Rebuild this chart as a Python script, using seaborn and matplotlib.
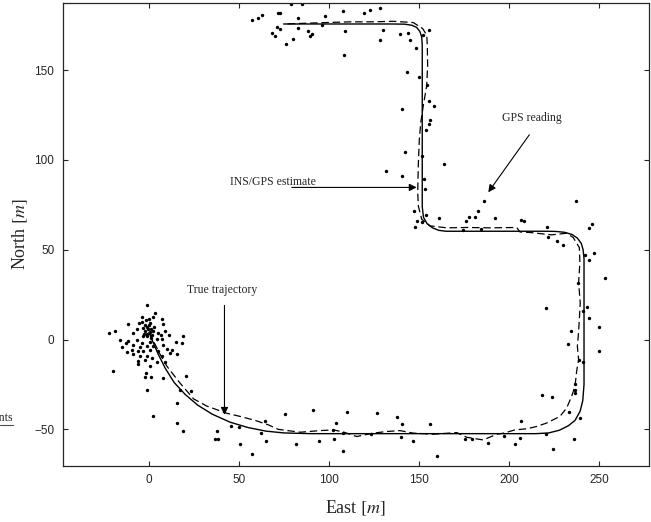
import matplotlib
matplotlib.use("Agg")
import matplotlib.pyplot as plt
import seaborn as sns
from matplotlib.lines import Line2D

# true trajectory (waypoints)
true_east = [0, 2, 5, 9, 14, 20, 27, 35, 45, 55, 65, 75, 90, 150, 215, 222, 228, 233,
             236.7, 239.5, 241, 241.7, 241.7, 241.2, 240.2, 238, 235, 231, 226, 220,
             165, 161, 157.5, 154.5, 152.5, 151.8, 151.8, 151.5, 150.5, 148.7, 146,
             142, 135, 75]
true_north = [4, -1, -8, -16, -24, -30.5, -36.5, -41.5, -46, -49, -51, -52, -52.4,
              -52.4, -52.4, -52, -50.5, -48, -45, -40, -34, -25, 45, 50, 53.5, 56.5,
              58.5, 59.7, 60.2, 60.3, 60.3, 60.8, 62.2, 64.5, 68, 74, 164, 168.5,
              171.5, 173.8, 175, 175.6, 175.7, 175.7]

# INS/GPS estimate
est_east = [0, 2, 6, 10, 17, 24.7, 32, 43, 50.6, 58.9, 66.3, 71.8, 84, 95, 102.4, 108,
            115.4, 124.6, 132, 139.4, 146.8, 158, 171, 176.5, 185.7, 193.2, 197.2,
            203.3, 209.8, 215, 220.9, 228.3, 232, 234.8, 236.7, 237.6, 238.7, 238,
            238.5, 239.1, 239.6, 238.7, 239.4, 239.1, 235.7, 232, 223.7, 211.7, 206.1,
            204.3, 189.4, 176.5, 165.4, 156.1, 151.5, 149.6, 149.3, 149.6, 150.2, 151,
            152.4, 154.3, 154.8, 154.6, 154.3, 152, 146.8, 135.7, 124.6, 111.7, 98.7,
            74.6]
est_north = [4, 0, -8, -15, -24, -33, -37, -41, -42.8, -45, -47.5, -50, -51.6, -50.7,
             -50.3, -51.5, -54, -52.1, -51.2, -50.7, -52.1, -52.7, -51.8, -54.4, -55.9,
             -52.7, -52.1, -50.3, -49.7, -48.5, -46.5, -42.8, -38.2, -31.7, -26, -17.7,
             -11.2, -3.7, 1.8, 11.2, 20.5, 31.7, 42.8, 51.2, 56.8, 59.2, 58.3, 59.6,
             59.9, 62.4, 62.2, 62.4, 62.2, 63.3, 67, 74.5, 82, 96.8, 111.7, 121, 130.3,
             141.5, 152.7, 163.9, 169.5, 173.2, 176.5, 177.2, 176.9, 176.9, 176.5, 175.7]

# GPS readings
gps_east = [
    -1.3, 3.3, -3.7, 2, 0.2, -11.7, -5.4, 8, -1.9, 7, -22.4, -18.9, -8.7, -6.5, -3.5,
    -2.2, -0.7, 0.6, 1.5, -1.3, -3.2, 5.2, 6.7, 8.9, 11.3, 4.3, 7, 19, -16.1, -11.5,
    -6.8, -4, 0.6, 15, 18.2, -12.8, -8.7, -5, -1.3, 2.4, 8, -15.2, -9.6, -5.9, -3.2,
    0.6, 5.2, 9.8, 12.6, -12.4, -8.7, -5, -1.3, 1.5, 7, 11.7, 15.4, -5.9, -2.2, 4.3,
    8.9, -5.9, 0.6, -20.2, -1.7, -2.2, 0.9, 8, 20.6, -1.3, 17.2, 23.2,
    -1, 0, 1, -2, 0.5, 2, -1, 1, 3, -3, -4,
    2, 15.4, 18.7, 15.7,
    38, 36.8, 38.3, 45.7, 49.8, 50.6, 57, 62, 64.4, 65, 75.6, 81.5, 91.3, 94.6, 102,
    102.8, 103.9, 107.6, 108, 109.8, 123.3, 126.8, 138, 140.4, 139.8, 146.5, 156.1,
    160.2, 175.7, 179.6, 188.5, 197.2, 203.3, 206.1, 206.5, 218.5, 224, 220.4, 224.3,
    236.1, 239.4, 233.3, 236.5,
    237.2, 206.5, 208.3, 221.3, 244.4, 246.1, 221.8, 226.5, 230.2, 242, 247.2, 244.6,
    253.5, 238.5, 220.6, 243.5, 241.3, 244.4, 250.2, 234.4, 232.9, 250.2, 239.1, 241.3,
    236.7, 236.7,
    145, 148.3, 143.2, 150.2, 154.6, 155.6, 158.5, 140.7, 156.1, 155.5, 153.9, 142.2,
    151.8, 163.9, 140.7, 152.9, 153.3, 131.5, 186.3, 147.2, 148.7, 151.5, 153.7, 147.8,
    161.3, 176.1, 177.9, 181.1, 182.9, 174.6, 184.3, 192.2,
    78.7, 84.8, 57.4, 60.7, 63, 71.8, 72.8, 82.9, 97.8, 107.9, 119.4, 122.8, 128.3,
    71.3, 72.8, 68.5, 70, 82.9, 88.5, 90.4, 89.4, 80.2, 75.9, 108.9, 108.5, 130.2,
    128.3, 139.4, 144.1, 152.1, 155.7, 95.9]
gps_north = [
    19, 15, 12.7, 12.7, 11.6, 8.9, 9.3, 8.5, 10.8, 11.2, 3.7, 4.6, 3.7, 6, 6.5, 4.6,
    5.6, 4.1, 2.8, 1.8, 1.8, 3.7, 2.8, 4.6, 2.8, 0.4, 0.4, 2.2, 0, -0.9, 0, -1.8, -1.5,
    -1.5, -1.8, -1.8, -2.8, -4.1, -3.7, -3.4, -2.8, -4.1, -5.6, -6.5, -6.1, -5.6, -6.5,
    -5.2, -5.6, -7.1, -7.8, -9.3, -8.9, -10.2, -9.3, -7.4, -7.8, -12.1, -11.6, -12.7,
    -12.7, -13.4, -14.5, -17.7, -18.6, -20.8, -20.8, -21.4, -20.1, -27.9, -27.9, -28.9,
    7, 8, 6, 8, 9, 5, 3, 1, 7, 3, 10,
    -42.5, -46.2, -50.7, -35.4,
    -50.7, -55.5, -55.1, -48, -48.8, -58.1, -63.9, -51.8, -45.4, -56.4, -41.5, -57.9,
    -39.3, -56.4, -50.3, -55.5, -46.5, -51.8, -62, -40.2, -52.7, -41, -43.2, -46.9,
    -54.4, -56.6, -46.9, -64.6, -55.3, -55.5, -57.4, -53.5, -58.1, -54.9, -45.1, -30.9,
    -31.8, -52.5, -60.7, -55.3, -43.6, -40.6, -29.8,
    77.3, 66.6, 65.8, 62.7, 62.2, 64.1, 57.2, 54.9, 52.7, 46.9, 48.4, 44.1, 34.2, 31.7,
    17.3, 18.3, 16, 11.9, 7.1, 5, -2.4, -6.5, -11.2, -12.7, -24.7, -28.3,
    166.6, 162.4, 149, 146.2, 141.9, 132.6, 130.3, 128.1, 122.3, 120, 116.4, 104.3,
    102.1, 97.8, 90.9, 89.4, 83.8, 93.6, 77.3, 71.7, 66.1, 65.5, 69.3, 62.4, 67.6,
    66.1, 68.5, 68.5, 71.7, 60.9, 61.8, 67.6,
    187, 186.7, 177.8, 179.3, 180.6, 181.9, 181.9, 179.1, 180.2, 182.8, 181.6, 183.4,
    184.7, 174.1, 172.8, 170.8, 169.1, 173.2, 171.9, 170.4, 169.1, 167.2, 164.4,
    171.8, 158.7, 172.6, 167, 170, 170.8, 169.6, 172.2, 175.1]

sns.set_style("ticks")
plt.rcParams['font.family'] = ['Liberation Serif', 'DejaVu Serif']
plt.rcParams['mathtext.fontset'] = 'stix'

fig = plt.figure(figsize=(6.51, 5.22), dpi=100)
ax = fig.add_axes([0.0963, 0.1073, 0.9006, 0.887])

sns.lineplot(x=true_east, y=true_north, sort=False, estimator=None, color='black',
             linewidth=1.0, ax=ax)
sns.lineplot(x=est_east, y=est_north, sort=False, estimator=None, color='black',
             linewidth=0.9, linestyle=(0, (6, 3)), ax=ax)
sns.scatterplot(x=gps_east, y=gps_north, color='black', s=6, linewidth=0, ax=ax)

ax.set_xlim(-48, 277.8)
ax.set_ylim(-70.4, 187.4)
ax.set_xticks([0, 50, 100, 150, 200, 250])
ax.set_yticks([-50, 0, 50, 100, 150])
ax.tick_params(direction='in', top=True, right=True, length=3.5, width=0.8,
               labelsize=8.5, pad=6)
for lab in ax.get_xticklabels() + ax.get_yticklabels():
    lab.set_family('Liberation Sans')
for sp in ax.spines.values():
    sp.set_linewidth(0.9)

ax.set_xlabel(r'East $[m]$', fontsize=13, va='center')
ax.set_ylabel(r'North $[m]$', fontsize=13, va='center')
ax.xaxis.set_label_coords(0.5, -0.091)
ax.yaxis.set_label_coords(-0.073, 0.5)

arrow = dict(arrowstyle='-|>', color='black', lw=0.8, mutation_scale=11,
             shrinkA=0, shrinkB=0)
ax.text(69, 87.7, 'INS/GPS estimate', fontsize=8.5, ha='center', va='center')
ax.annotate('', xy=(148.7, 84.7), xytext=(79.3, 84.7), arrowprops=arrow)
ax.text(212.8, 123.2, 'GPS reading', fontsize=8.5, ha='center', va='center')
ax.annotate('', xy=(188.5, 82), xytext=(211.3, 114), arrowprops=arrow)
ax.text(40.8, 27.7, 'True trajectory', fontsize=8.5, ha='center', va='center')
ax.annotate('', xy=(41.9, -41.9), xytext=(41.9, 19), arrowprops=arrow)

# clipped fragment at the left edge
fig.text(13 / 651, 1 - 418 / 522, 'Measurements', fontsize=8.5, ha='right', va='center')
fig.add_artist(Line2D([0, 13 / 651], [1 - 425 / 522] * 2, color='0.3', lw=0.8))

fig.savefig('out.png', dpi=100)
